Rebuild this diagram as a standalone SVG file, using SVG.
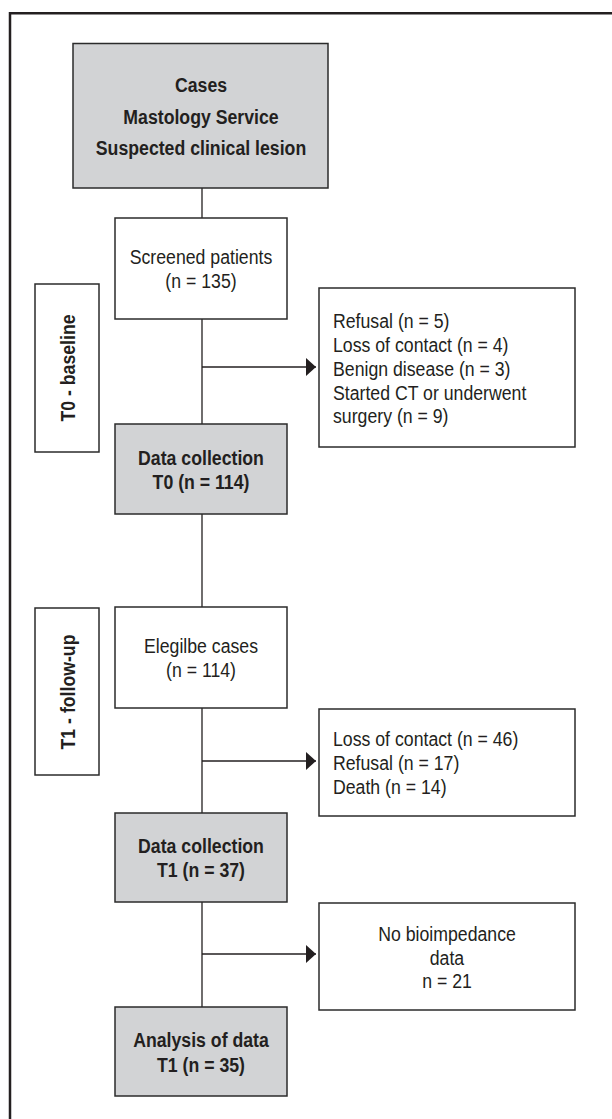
<svg xmlns="http://www.w3.org/2000/svg" width="612" height="1119" viewBox="0 0 612 1119">
<style>
.box{fill:#ffffff;stroke:#2b2b2b;stroke-width:1.5}
.gray{fill:#d2d3d5;stroke:#2b2b2b;stroke-width:1.5}
.t{font-family:"Liberation Sans",Arial,sans-serif;font-size:21px;fill:#231f20}
.b{font-weight:bold}
.c{text-anchor:middle}
.conn{stroke:#231f20;stroke-width:1.3;fill:none}
</style>
<defs>
<marker id="arr" markerUnits="userSpaceOnUse" markerWidth="10" markerHeight="18" refX="10" refY="9" orient="auto">
<path d="M0,0 L10,9 L0,18 Z" fill="#231f20"/>
</marker>
</defs>
<rect x="0" y="0" width="612" height="1119" fill="#ffffff"/>
<path d="M10,1119 L10,13.3 L612,13.3" fill="none" stroke="#231f20" stroke-width="2.5"/>

<g id="connectors">
<line class="conn" x1="202" y1="188" x2="202" y2="218"/>
<line class="conn" x1="202" y1="319" x2="202" y2="424"/>
<line class="conn" x1="202" y1="514" x2="202" y2="607"/>
<line class="conn" x1="202" y1="708" x2="202" y2="813"/>
<line class="conn" x1="202" y1="902" x2="202" y2="1007"/>
<line class="conn" x1="202" y1="367" x2="316" y2="367" marker-end="url(#arr)"/>
<line class="conn" x1="202" y1="761" x2="316" y2="761" marker-end="url(#arr)"/>
<line class="conn" x1="202" y1="954" x2="316" y2="954" marker-end="url(#arr)"/>
</g>

<g id="cases">
<rect class="gray" x="73" y="43.5" width="255" height="144.5"/>
<text class="t b c" transform="translate(201,91.7) scale(0.843,1)">Cases</text>
<text class="t b c" transform="translate(201,124) scale(0.843,1)">Mastology Service</text>
<text class="t b c" transform="translate(201,155) scale(0.843,1)">Suspected clinical lesion</text>
</g>

<g id="screened">
<rect class="box" x="115" y="218" width="172" height="101"/>
<text class="t c" transform="translate(201,264) scale(0.843,1)">Screened patients</text>
<text class="t c" transform="translate(201,288.3) scale(0.843,1)">(n = 135)</text>
</g>

<g id="t0label">
<rect class="box" x="35" y="284" width="64" height="168"/>
<text class="t b c" transform="translate(75,368) rotate(-90) scale(0.843,1)">T0 - baseline</text>
</g>

<g id="excl1">
<rect class="box" x="319" y="288" width="256" height="159"/>
<text class="t" transform="translate(333,328.3) scale(0.843,1)">Refusal (n = 5)</text>
<text class="t" transform="translate(333,352) scale(0.843,1)">Loss of contact (n = 4)</text>
<text class="t" transform="translate(333,375.8) scale(0.843,1)">Benign disease (n = 3)</text>
<text class="t" transform="translate(333,399.6) scale(0.843,1)">Started CT or underwent</text>
<text class="t" transform="translate(333,423.3) scale(0.843,1)">surgery (n = 9)</text>
</g>

<g id="dct0">
<rect class="gray" x="115" y="424" width="172" height="90"/>
<text class="t b c" transform="translate(201,465) scale(0.843,1)">Data collection</text>
<text class="t b c" transform="translate(201,488.5) scale(0.843,1)">T0 (n = 114)</text>
</g>

<g id="elegible">
<rect class="box" x="115" y="607" width="172" height="101"/>
<text class="t c" transform="translate(201,653) scale(0.843,1)">Elegilbe cases</text>
<text class="t c" transform="translate(201,677) scale(0.843,1)">(n = 114)</text>
</g>

<g id="t1label">
<rect class="box" x="35" y="608" width="64" height="167"/>
<text class="t b c" transform="translate(75,692) rotate(-90) scale(0.843,1)">T1 - follow-up</text>
</g>

<g id="excl2">
<rect class="box" x="319" y="709" width="256" height="107"/>
<text class="t" transform="translate(333,746) scale(0.843,1)">Loss of contact (n = 46)</text>
<text class="t" transform="translate(333,770) scale(0.843,1)">Refusal (n = 17)</text>
<text class="t" transform="translate(333,794) scale(0.843,1)">Death (n = 14)</text>
</g>

<g id="dct1">
<rect class="gray" x="115" y="813" width="172" height="89"/>
<text class="t b c" transform="translate(201,853) scale(0.843,1)">Data collection</text>
<text class="t b c" transform="translate(201,877) scale(0.843,1)">T1 (n = 37)</text>
</g>

<g id="nobio">
<rect class="box" x="319" y="903" width="256" height="107"/>
<text class="t c" transform="translate(447,941) scale(0.843,1)">No bioimpedance</text>
<text class="t c" transform="translate(447,964.5) scale(0.843,1)">data</text>
<text class="t c" transform="translate(447,988) scale(0.843,1)">n = 21</text>
</g>

<g id="analysis">
<rect class="gray" x="115" y="1007" width="172" height="89"/>
<text class="t b c" transform="translate(201,1047) scale(0.843,1)">Analysis of data</text>
<text class="t b c" transform="translate(201,1072) scale(0.843,1)">T1 (n = 35)</text>
</g>
</svg>
